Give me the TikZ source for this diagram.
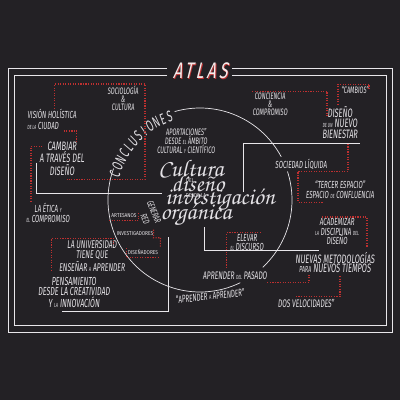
\documentclass[tikz,border=0pt]{standalone}
\usepackage{fontspec}
\setmainfont{Fira Sans}
\newfontfamily\hand{Fira Sans}[FakeStretch=0.6,FakeSlant=0.08]
\newfontfamily\handwide{Fira Sans}[FakeStretch=0.85]
\newfontfamily\atlasfont{Fira Sans}[FakeStretch=0.7,FakeSlant=0.25,LetterSpace=14]
\newfontfamily\titlefont{texgyrechorus-mediumitalic.otf}
\usetikzlibrary{positioning,calc}
\definecolor{board}{RGB}{35,33,37}
\definecolor{chalk}{RGB}{228,226,230}
\definecolor{chalkred}{RGB}{190,48,48}
\definecolor{atlaspink}{RGB}{246,234,234}
\newcommand{\sw}[1]{{\fontsize{4.2}{4}\selectfont #1}}

\begin{document}
\begin{tikzpicture}[
    x=0.025cm, y=-0.025cm,
    lbl/.style={text=chalk, font=\hand\fontsize{7.3}{6.8}\selectfont, align=center, inner sep=0pt},
    big/.style={lbl, font=\hand\fontsize{8.7}{7.4}\selectfont},
    sml/.style={lbl, font=\hand\fontsize{6.7}{5.6}\selectfont},
    tag/.style={lbl, font=\handwide\fontsize{4}{4}\selectfont},
    script/.style={text=chalk, font=\titlefont\fontsize{17}{17}\selectfont, inner sep=0pt, anchor=base},
    chalkline/.style={draw=chalk!85, line width=0.5pt},
    reddot/.style={draw=chalkred, densely dotted, line width=0.8pt}
]
    % Board
    \fill[board] (0,0) rectangle (400,400);
    \useasboundingbox (0,0) rectangle (400,400);

    % Title
    \node[text=chalkred, font=\atlasfont\fontsize{16}{16}\selectfont] (atlasshade) at (200.8,71.8) {ATLAS};
    \node[text=atlaspink, font=\atlasfont\fontsize{16}{16}\selectfont] (atlas) at (200,71) {ATLAS};

    % Frame
    \draw[chalkline] (167,68) -- (8,68) -- (8,332) -- (392,332) -- (392,68) -- (232,68);
    \draw[chalkline] (167,75) -- (14,75) -- (14,325) -- (386,325) -- (386,75) -- (232,75);

    % Circle
    \coordinate (c) at (200,200);
    \draw[chalkline] ($(c)+(-106:92)$) arc[start angle=-106, end angle=-28, radius=92];
    \draw[chalkline] ($(c)+(-18:92)$) arc[start angle=-18, end angle=47, radius=92];
    \draw[chalkline] ($(c)+(-160:92)$) arc[start angle=-160, end angle=-296, radius=92];
    \foreach \ch [count=\i] in {C,O,N,C,L,U,S,I,O,N,E,S}
        \node[lbl, font=\hand\fontsize{11}{10}\selectfont, rotate={163-(\i-1)*4.8-90}] (con\i) at ($(c)+({-(163-(\i-1)*4.8)}:89)$) {\ch};

    % Left side
    \node[sml] (socio) at (123,98) {SOCIOLOGÍA\\ \&\\ CULTURA};
    \node[lbl, align=left, anchor=west, font=\hand\fontsize{7.3}{7.8}\selectfont] (vision) at (27,119.5) {VISIÓN HOLÍSTICA\\ \sw{DE LA} CIUDAD};
    \node[big] (cambiar) at (62,158.5) {CAMBIAR\\ A TRAVÉS DEL\\ DISEÑO};
    \node[lbl, font=\hand\fontsize{7.3}{7.1}\selectfont] (etica) at (48,213) {LA ÉTICA \sw{Y}\\ \sw{EL} COMPROMISO};
    \node[big, font=\hand\fontsize{8}{7}\selectfont] (univ) at (92,256) {LA UNIVERSIDAD\\ TIENE QUE\\ ENSEÑAR \sw{A} APRENDER};
    \node[big, font=\hand\fontsize{8.3}{7.5}\selectfont] (pensa) at (74,292.5) {PENSAMIENTO\\ DESDE LA CREATIVIDAD\\ Y \sw{LA} INNOVACIÓN};

    % Inside the circle
    \node[sml, font=\hand\fontsize{6.7}{6.4}\selectfont] (aport) at (186,141) {APORTACIONES”\\ DESDE \sw{EL} ÁMBITO\\ CULTURAL \sw{Y} CIENTÍFICO};
    \node[tag] (artes) at (124,216) {ARTESANOS};
    \node[tag] (invest) at (135,234) {INVESTIGADORES};
    \node[tag] (disen) at (143,252) {DISEÑADORES};
    \node[sml, rotate=-68] (generar) at (154,212) {GENERAR};
    \node[sml, rotate=-68] (red) at (145,219) {RED};

    % Centre title
    \node[script] (cultura) at (191,176) {Cultura};
    \node[tag] (del) at (190,181) {DEL};
    \node[script] (diseno) at (198,191) {diseño};
    \node[tag] (desde) at (196,196) {DESDE LA};
    \node[script] (investig) at (220,204) {investigación};
    \node[script] (organica) at (196,219) {orgánica};

    % Right side
    \node[sml, font=\hand\fontsize{6.7}{5.7}\selectfont] (concien) at (270,104) {CONCIENCIA\\ \&\\ COMPROMISO};
    \node[sml] (cambios) at (355,90) {“CAMBIOS”};
    \node[big, font=\hand\fontsize{8.7}{7.5}\selectfont] (bienestar) at (340,122.5) {DISEÑO\\ \sw{DE UN} NUEVO\\ BIENESTAR};
    \node[lbl] (liquida) at (301,164) {SOCIEDAD LÍQUIDA};
    \node[lbl, font=\hand\fontsize{7.3}{7.1}\selectfont] (tercer) at (340,190) {“TERCER ESPACIO”\\ ESPACIO \sw{DE} CONFLUENCIA};
    \node[lbl] (academ) at (337,231.5) {ACADEMIZAR\\ \sw{LA} DISCIPLINA \sw{DEL}\\ DISEÑO};
    \node[big, font=\hand\fontsize{8.7}{6.8}\selectfont] (nuevas) at (335,262.5) {NUEVAS METODOLOGÍAS\\ {\fontsize{6.2}{6}\selectfont PARA} NUEVOS TIEMPOS};
    \node[lbl] (elevar) at (247,242.5) {ELEVAR\\ \sw{EL} DISCURSO};
    \node[lbl, font=\hand\fontsize{7.8}{7}\selectfont] (pasado) at (235,276) {APRENDER \sw{DEL} PASADO};
    \node[lbl, rotate=6] (aprender) at (210,296) {“APRENDER \sw{A} APRENDER”};
    \node[lbl, font=\hand\fontsize{7.8}{7}\selectfont] (dosvel) at (306,303) {DOS VELOCIDADES”};

    % Free ends
    \coordinate (a1) at (145,84);
    \coordinate (w1end) at (162,193);
    \coordinate (w2end) at (243,192);
    \coordinate (w3end) at (204,227);
    \coordinate (w4end) at (168,237);

    % White brackets
    \draw[chalkline] (cambiar.west) ++(-3,4) |- (w1end);
    \draw[chalkline] (w2end) |- ($(bienestar.south east)+(2,4)$);
    \draw[chalkline] (w3end) |- ($(nuevas.north east)+(-56,-1)$);
    \draw[chalkline] ($(pensa.south)+(-12,3)$) -| (w4end);

    % Red dotted links
    \draw[reddot] ($(vision.north)+(3,0)$) |- (a1) |- ($(cambiar.south east)+(-18,4)$);
    \draw[reddot] ($(vision.south)+(12,1)$) -| ($(cambiar.north east)+(-8,2)$);
    \draw[reddot] ($(cambiar.north west)+(3,5)$) -| ($(etica.north west)+(5,-1)$);
    \draw[reddot] ($(univ.north east)+(-12,4)$) |- ($(univ.north west)+(-7,-2)$) -- ++(0,32);
    \draw[reddot] ($(concien.north west)+(0,-1)$) -| ($(bienestar.west)+(5,-6)$);
    \draw[reddot] ($(cambios.north east)+(0,3)$) |- ($(cambios.north west)+(-3,-2)$) -- ++(0,20);
    \draw[reddot] ($(bienestar.south east)+(-10,5)$) |- ($(liquida.south)+(-3,2)$) |- ($(tercer.south west)+(18,3)$);
    \draw[reddot] ($(academ.north)+(-15,-1)$) -| ($(nuevas.north east)+(-8,-4)$);
    \draw[reddot] ($(elevar.north east)+(-3,-1)$) -| ($(pasado.north west)+(24,-4)$);
    \draw[reddot] ($(pasado.south east)+(0,2)$) -| ($(nuevas.south west)+(14,2)$);
    \draw[reddot] ($(nuevas.south)+(5,3)$) |- ($(dosvel.north west)+(17,-2)$);
    \draw[reddot] ($(artes.south west)+(-2,2)$) -| ($(artes.east)+(2,-3)$);
    \draw[reddot] ($(invest.north east)+(0,-2)$) |- ++(7,8) -- ($(disen.north east)+(2,-2)$);
    \draw[reddot] ($(disen.north west)+(-1,-1)$) |- ($(disen.south east)+(0,3)$);
\end{tikzpicture}
\end{document}
